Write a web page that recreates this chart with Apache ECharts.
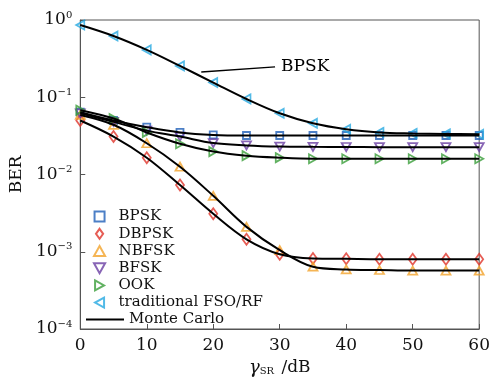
<!DOCTYPE html>
<html><head><meta charset="utf-8">
<script src="https://cdn.jsdelivr.net/npm/echarts@6/dist/echarts.min.js"></script>
<style>html,body{margin:0;padding:0;background:#fff}#c{width:493px;height:382px}</style>
</head><body><div id="c"></div>
<script>
const snr = [0,5,10,15,20,25,30,35,40,45,50,55,60];
const bpsk  = [0.064,0.050,0.041,0.035,0.0325,0.032,0.032,0.032,0.032,0.032,0.032,0.032,0.032];
const dbpsk = [0.050,0.031,0.0165,0.0073,0.0031,0.00145,0.00093,0.00082,0.00081,0.0008,0.0008,0.0008,0.0008];
const nbfsk = [0.059,0.044,0.0254,0.0126,0.0053,0.0021,0.00105,0.00064,0.00059,0.00058,0.00057,0.00057,0.00057];
const bfsk  = [0.062,0.048,0.037,0.031,0.0255,0.0238,0.023,0.0228,0.0227,0.0226,0.0226,0.0226,0.0226];
const ook   = [0.068,0.053,0.035,0.025,0.0198,0.0175,0.0165,0.016,0.016,0.016,0.016,0.016,0.016];
const fso   = [0.86,0.62,0.41,0.254,0.155,0.095,0.062,0.046,0.0385,0.035,0.034,0.0335,0.0332];
const names = ['BPSK','DBPSK','NBFSK','BFSK','OOK','traditional FSO/RF'];
const values = [bpsk,dbpsk,nbfsk,bfsk,ook,fso];
const colors = ['#1f5fb8','#e0352b','#f2a22a','#6a3fa3','#3a9e3a','#27a9e1'];
const symbols = ['path://M0,0L10,0L10,10L0,10Z','path://M5,0L10,7L5,14L0,7Z','path://M5,0L10,9L0,9Z','path://M0,0L10,0L5,9Z','path://M0,0L9,5L0,10Z','path://M9,0L0,5L9,10Z'];
const sizes = [[7,7],[8,11],[9,8],[9,8],[8,9],[8,9]];
const FONT = 'DejaVu Serif';

const pairs = arr => snr.map((x,i)=>[x,arr[i]]);
const series = [];
values.forEach((v,k)=>{
  series.push({
    name:'Monte Carlo', type:'line', data:pairs(v), smooth:0.35, symbol:'none',
    lineStyle:{color:'#000',width:2}, itemStyle:{color:'#000'}, z:3, silent:true
  });
});
values.forEach((v,k)=>{
  series.push({
    name:names[k], type:'scatter', data:pairs(v), symbol:symbols[k],
    symbolSize:sizes[k], itemStyle:{color:'rgba(255,255,255,0)',borderColor:colors[k],borderWidth:1.8}, z:2
  });
});
series[0].markLine = {
  silent:true, symbol:['none','arrow'], symbolSize:[0,10],
  lineStyle:{color:'#000',width:1.4,type:'solid'},
  label:{show:true,position:'start',formatter:'BPSK',fontFamily:FONT,fontSize:17,color:'#000',distance:6},
  data:[[{coord:[29.3,0.247]},{coord:[18.2,0.212]}]]
};

const chart = echarts.init(document.getElementById('c'));
chart.setOption({
  backgroundColor:'#fff',
  animation:false,
  grid:{left:75,right:12,top:20,bottom:53,show:true,borderColor:'#555',borderWidth:1},
  legend:[
    {data:names.map(n=>({name:n})), orient:'vertical', left:88, top:203, itemWidth:18, itemHeight:10, itemGap:0,
     textStyle:{fontFamily:FONT,fontSize:15,color:'#111',lineHeight:17.2,padding:[0,0,0,5]}, selectedMode:false},
    {data:[{name:'Monte Carlo',icon:'rect'}], orient:'vertical', left:81, top:306, itemWidth:38, itemHeight:2, itemGap:0,
     textStyle:{fontFamily:FONT,fontSize:15,color:'#111',lineHeight:17},selectedMode:false}
  ],
  xAxis:{type:'value',min:0,max:60,interval:10,
    axisLine:{lineStyle:{color:'#555'}}, axisTick:{inside:true,length:5,lineStyle:{color:'#555'}},
    splitLine:{show:false},
    axisLabel:{fontFamily:FONT,fontSize:17,color:'#111',margin:8},
    name:'{g|γ}{s|SR} /dB', nameLocation:'middle', nameGap:28,
    nameTextStyle:{fontFamily:FONT,fontSize:17,color:'#111',
      rich:{g:{fontFamily:FONT,fontSize:18,fontStyle:'italic',color:'#111'},
            s:{fontFamily:FONT,fontSize:10,color:'#111',padding:[8,2,0,0]}}}
  },
  yAxis:{type:'log',min:1e-4,max:1,logBase:10,
    axisLine:{show:true,lineStyle:{color:'#555'}}, axisTick:{show:true,inside:true,length:5,lineStyle:{color:'#555'}},
    splitLine:{show:false},
    axisLabel:{margin:8,formatter:v=>{const e=Math.round(Math.log10(v));return '{b|10}{s|'+(e<0?'−'+(-e):e)+'}';},
      rich:{b:{fontFamily:FONT,fontSize:17,color:'#111'},s:{fontFamily:FONT,fontSize:10,color:'#111',padding:[0,0,10,0]}}},
    name:'BER', nameLocation:'middle', nameGap:54, nameRotate:90,
    nameTextStyle:{fontFamily:FONT,fontSize:17,color:'#111'}
  },
  series:series
});
</script></body></html>
